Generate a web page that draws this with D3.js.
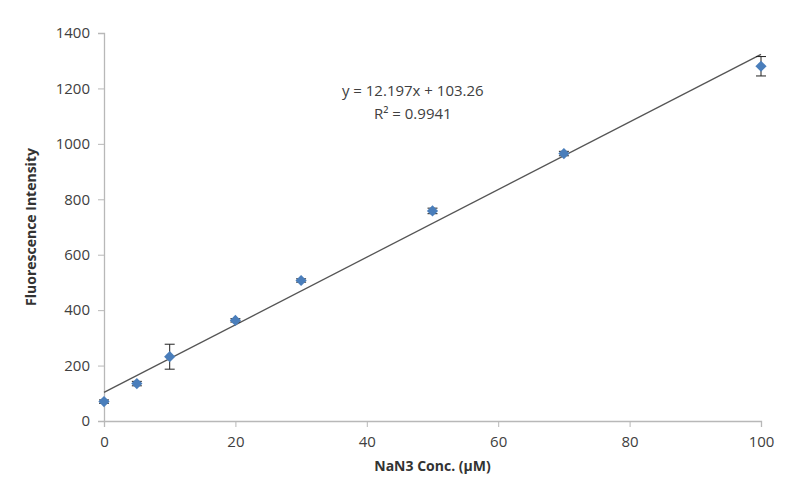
<!DOCTYPE html>
<html>
<head>
<script src="https://d3js.org/d3.v7.min.js"></script>
<style>
  body { margin: 0; background: #fff; }
  text { font-family: "Open Sans", "Noto Sans", sans-serif; }
</style>
</head>
<body>
<svg id="chart" width="800" height="502"></svg>
<script>
// data
var conc = [0, 5, 10, 20, 30, 50, 70, 100];
var intensity = [70, 135, 232, 363, 507, 758, 965, 1280];
var errBars = [6, 8, 45, 6, 6, 10, 8, 35];
var xTicks = [0, 20, 40, 60, 80, 100];
var yTicks = [0, 200, 400, 600, 800, 1000, 1200, 1400];
var slope = 12.197, intercept = 103.26;
var eqLines = ["y = 12.197x + 103.26", "R² = 0.9941"];

var svg = d3.select('#chart'),
    margin = {left: 104, right: 39, top: 33, bottom: 81},
    width = 800 - margin.left - margin.right,
    height = 502 - margin.top - margin.bottom;

var g = svg.append('g').attr('transform', 'translate(' + margin.left + ',' + margin.top + ')');

var x = d3.scaleLinear().domain([0, 100]).range([0, width]);
var y = d3.scaleLinear().domain([0, 1400]).range([height, 0]);

// axes
var yAxis = g.append('g')
    .call(d3.axisLeft(y).tickValues(yTicks).tickFormat(d3.format('d')).tickSize(6).tickPadding(8));
var xAxis = g.append('g')
    .attr('transform', 'translate(0,' + height + ')')
    .call(d3.axisBottom(x).tickValues(xTicks).tickFormat(d3.format('d')).tickSize(6).tickPadding(9));

[xAxis, yAxis].forEach(function(a) {
  a.selectAll('path, line').attr('stroke', '#b8b8b8');
  a.selectAll('text').attr('fill', '#404040').style('font-size', '15px');
  a.select('.domain').attr('stroke-width', 1.3);
});

// trend line
g.append('line')
  .attr('x1', x(0)).attr('y1', y(intercept))
  .attr('x2', x(100)).attr('y2', y(slope * 100 + intercept))
  .attr('stroke', '#555').attr('stroke-width', 1.3);

// error bars
var pts = conc.map(function(c, i) { return {x: c, y: intensity[i], e: errBars[i]}; });
var eb = g.selectAll('.err').data(pts).enter().append('g').attr('class', 'err')
  .attr('stroke', '#222').attr('stroke-width', 1);
eb.append('line')
  .attr('x1', function(d) { return x(d.x); }).attr('x2', function(d) { return x(d.x); })
  .attr('y1', function(d) { return y(d.y - d.e); }).attr('y2', function(d) { return y(d.y + d.e); });
eb.append('line')
  .attr('x1', function(d) { return x(d.x) - 5; }).attr('x2', function(d) { return x(d.x) + 5; })
  .attr('y1', function(d) { return y(d.y + d.e); }).attr('y2', function(d) { return y(d.y + d.e); });
eb.append('line')
  .attr('x1', function(d) { return x(d.x) - 5; }).attr('x2', function(d) { return x(d.x) + 5; })
  .attr('y1', function(d) { return y(d.y - d.e); }).attr('y2', function(d) { return y(d.y - d.e); });

// markers
g.selectAll('.pt').data(pts).enter().append('path')
  .attr('class', 'pt')
  .attr('d', d3.symbol().type(d3.symbolDiamond2).size(80))
  .attr('transform', function(d) { return 'translate(' + x(d.x) + ',' + y(d.y) + ')'; })
  .attr('fill', '#4a7ebb');

// equation
g.selectAll('.eq').data(eqLines).enter().append('text')
  .attr('x', x(47))
  .attr('y', function(d, i) { return y(1190) + 5 + i * 23; })
  .attr('text-anchor', 'middle')
  .attr('fill', '#404040')
  .style('font-size', '15px')
  .text(function(d) { return d; });

// axis titles
svg.append('text')
  .attr('transform', 'translate(36,' + (margin.top + height / 2) + ') rotate(-90)')
  .attr('text-anchor', 'middle')
  .style('font-size', '14px').style('font-weight', 'bold')
  .attr('fill', '#333')
  .text('Fluorescence Intensity');
svg.append('text')
  .attr('x', margin.left + width / 2)
  .attr('y', 471)
  .attr('text-anchor', 'middle')
  .style('font-size', '14px').style('font-weight', 'bold')
  .attr('fill', '#333')
  .text('NaN3 Conc. (µM)');
</script>
</body>
</html>
